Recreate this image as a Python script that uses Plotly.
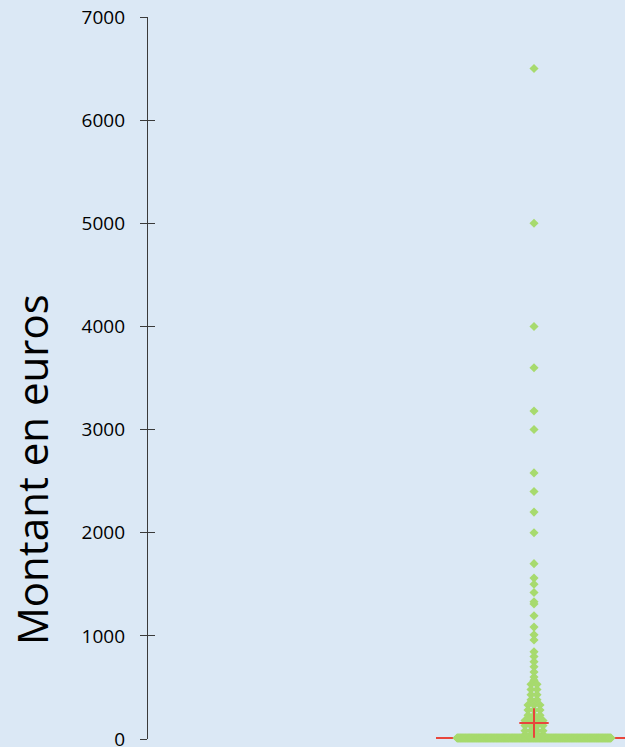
import numpy as np
import plotly.graph_objects as go

amounts = [6500, 5000, 4000, 3600, 3180, 3000, 2580, 2400, 2200, 2000,
           1700, 1560, 1500, 1420, 1330, 1310, 1195, 1085, 1010, 960,
           845, 800, 750, 700, 650, 600, 570, 530, 480, 430, 380,
           330, 280, 230, 180, 130, 80, 40, 10]
counts = [1, 1, 1, 1, 1, 1, 1, 1, 1, 1,
          1, 1, 1, 1, 1, 1, 1, 1, 1, 1,
          1, 1, 1, 1, 1, 1, 1, 2, 2, 2, 2,
          3, 3, 3, 4, 4, 4, 4, 352]
y_ticks = [0, 1000, 2000, 3000, 4000, 5000, 6000, 7000]
axis_title = "Montant en euros"

GREEN = "#A7DA6E"
RED = "#E8463C"
BG = "#DBE8F5"
AXIS = "#3A3A3A"

# expand to individual observations, spreading equal values horizontally
values, xs = [], []
for a, k in zip(amounts, counts):
    spacing = 6 if k == 1 else min(6, 154 / (k - 1))
    for i in range(k):
        values.append(a)
        xs.append((i - (k - 1) / 2) * spacing)

arr = np.array(values, dtype=float)
mean_val = float(arr.mean())
q1, med, q3 = (float(v) for v in np.percentile(arr, [25, 50, 75]))

fig = go.Figure()
fig.add_trace(go.Box(
    x=[0], q1=[q1], median=[med], q3=[q3], lowerfence=[q1], upperfence=[q3],
    width=196, boxpoints=False,
    line=dict(color=RED, width=2), fillcolor="rgba(0,0,0,0)",
    whiskerwidth=0, showlegend=False, hoverinfo="skip"))
fig.add_trace(go.Scatter(
    x=xs, y=values, mode="markers", cliponaxis=False,
    marker=dict(symbol="diamond", size=7, color=GREEN, line=dict(width=0)),
    showlegend=False))
fig.add_trace(go.Scatter(
    x=[0], y=[mean_val], mode="markers", cliponaxis=False,
    marker=dict(symbol="cross-thin", size=21, line=dict(color=RED, width=2)),
    showlegend=False))
# invisible trace so the cross-tick overlay axis is drawn
fig.add_trace(go.Scatter(x=[0], y=[0], yaxis="y2", mode="markers",
                         marker=dict(opacity=0), showlegend=False, hoverinfo="skip"))

fig.update_layout(
    width=625, height=747,
    margin=dict(l=148, r=0, t=17, b=8, autoexpand=False),
    paper_bgcolor=BG, plot_bgcolor=BG,
    font=dict(family="Open Sans", color="#111111"),
    xaxis=dict(range=[-386, 91], visible=False, showgrid=False, zeroline=False,
               automargin=False),
    yaxis=dict(range=[0, 7000], tickvals=y_ticks, ticks="outside", ticklen=7,
               tickcolor=AXIS, tickwidth=1.3, showline=True, linecolor=AXIS,
               linewidth=1.3, showgrid=False, zeroline=False, automargin=False,
               tickfont=dict(size=19, family="Open Sans", color="#000000"),
               ticklabelstandoff=11, ticklabeloverflow="allow"),
    yaxis2=dict(range=[0, 7000], overlaying="y", side="left", tickvals=y_ticks,
                ticks="inside", ticklen=7, tickcolor=AXIS, tickwidth=1.3,
                showticklabels=False, showline=False, showgrid=False, zeroline=False,
                automargin=False),
    annotations=[dict(text=axis_title, textangle=-90, xref="paper", yref="paper",
                      x=-0.2432, y=0.374, xanchor="center", yanchor="middle",
                      showarrow=False, font=dict(size=42, family="Open Sans", color="#000000"))],
)

fig.write_html("out.html", config={"displayModeBar": False},
               post_script="document.body.style.margin='0';document.body.style.background='" + BG + "';")
